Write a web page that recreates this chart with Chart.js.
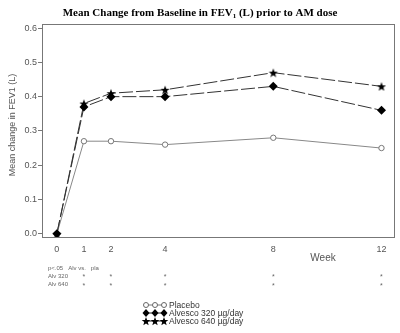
<!DOCTYPE html>
<html><head><meta charset="utf-8">
<script src="https://cdn.jsdelivr.net/npm/chart.js@4.4.1/dist/chart.umd.min.js"></script>
<style>html,body{margin:0;padding:0;background:#fff}#wrap{width:400px;height:333px}</style>
</head><body><div id="wrap"><canvas id="c" width="400" height="333"></canvas></div>
<script>
const weeks = [0, 1, 2, 4, 8, 12];
const placebo = [0, 0.27, 0.27, 0.26, 0.28, 0.25];
const alv320 = [0, 0.37, 0.40, 0.40, 0.43, 0.36];
const alv640 = [0, 0.38, 0.41, 0.42, 0.47, 0.43];
const seriesNames = ['Placebo', 'Alvesco 320 µg/day', 'Alvesco 640 µg/day'];
const yTicks = [0, 0.1, 0.2, 0.3, 0.4, 0.5, 0.6];
const sig320 = [1, 2, 4, 8, 12];
const sig640 = [1, 2, 4, 8, 12];

function starPath(ctx, cx, cy, R, r) {
  ctx.beginPath();
  for (let i = 0; i < 10; i++) {
    const rad = i % 2 === 0 ? R : r;
    const a = -Math.PI / 2 + i * Math.PI / 5;
    const x = cx + rad * Math.cos(a), y = cy + rad * Math.sin(a);
    if (i === 0) ctx.moveTo(x, y); else ctx.lineTo(x, y);
  }
  ctx.closePath();
}
const starImg = document.createElement('canvas');
starImg.width = 10; starImg.height = 10;
(function(){const g = starImg.getContext('2d'); g.fillStyle = '#000'; starPath(g, 5, 5.5, 4.8, 2.0); g.fill();})();

function toXY(vals){ return weeks.map((w,i)=>({x:w,y:vals[i]})); }

const extras = {
  id: 'extras',
  afterDraw(chart) {
    const ctx = chart.ctx, ca = chart.chartArea;
    const xs = chart.scales.x;
    ctx.save();
    ctx.strokeStyle = '#777'; ctx.lineWidth = 1;
    ctx.strokeRect(ca.left + 0.5, ca.top + 0.5, ca.right - ca.left - 1, ca.bottom - ca.top - 1);
    ctx.fillStyle = '#000';
    ctx.textBaseline = 'alphabetic';
    const f1 = 'bold 11px "Liberation Serif", "Times New Roman", serif';
    const f2 = 'bold 7px "Liberation Serif", "Times New Roman", serif';
    const p1 = 'Mean Change from Baseline in FEV', p2 = '1', p3 = ' (L) prior to AM dose';
    ctx.font = f1; const w1 = ctx.measureText(p1).width, w3 = ctx.measureText(p3).width;
    ctx.font = f2; const w2 = ctx.measureText(p2).width;
    let x0 = 200 - (w1 + w2 + w3) / 2;
    ctx.font = f1; ctx.textAlign = 'left'; ctx.fillText(p1, x0, 16);
    ctx.font = f2; ctx.fillText(p2, x0 + w1, 18);
    ctx.font = f1; ctx.fillText(p3, x0 + w1 + w2, 16);
    ctx.save();
    ctx.translate(13, 125); ctx.rotate(-Math.PI / 2);
    ctx.font = '9px "Liberation Sans", Arial, sans-serif'; ctx.fillStyle = '#555';
    ctx.textAlign = 'center'; ctx.textBaseline = 'middle';
    ctx.fillText('Mean change in FEV1 (L)', 0, 0);
    ctx.restore();
    ctx.font = '10px "Liberation Sans", Arial, sans-serif'; ctx.fillStyle = '#555';
    ctx.textAlign = 'center'; ctx.textBaseline = 'middle';
    ctx.fillText('Week', 323, 258);
    ctx.font = '6px "Liberation Sans", Arial, sans-serif'; ctx.fillStyle = '#666';
    ctx.textAlign = 'left';
    ctx.fillText('p<.05   Alv vs.   pla', 48, 268);
    ctx.fillText('Alv 320', 48, 276);
    ctx.fillText('Alv 640', 48, 284);
    ctx.textAlign = 'center';
    ctx.font = '7px "Liberation Sans", Arial, sans-serif';
    sig320.forEach(w => ctx.fillText('*', xs.getPixelForValue(w), 277));
    sig640.forEach(w => ctx.fillText('*', xs.getPixelForValue(w), 286));
    const lx = [146, 155, 164];
    const rows = [305, 313, 321];
    ctx.textAlign = 'left'; ctx.textBaseline = 'middle';
    ctx.font = '8.5px "Liberation Sans", Arial, sans-serif';
    rows.forEach((y, k) => {
      ctx.strokeStyle = k === 0 ? '#777' : '#222'; ctx.lineWidth = 1;
      ctx.beginPath(); ctx.moveTo(lx[0], y); ctx.lineTo(lx[2], y); ctx.stroke();
      lx.forEach(x => {
        if (k === 0) {
          ctx.beginPath(); ctx.arc(x, y, 2.5, 0, Math.PI * 2);
          ctx.fillStyle = '#fff'; ctx.fill(); ctx.strokeStyle = '#666'; ctx.stroke();
        } else if (k === 1) {
          ctx.beginPath(); ctx.moveTo(x, y - 4); ctx.lineTo(x + 3.5, y); ctx.lineTo(x, y + 4); ctx.lineTo(x - 3.5, y); ctx.closePath();
          ctx.fillStyle = '#000'; ctx.fill();
        } else {
          ctx.fillStyle = '#000'; starPath(ctx, x, y + 0.5, 4.5, 1.9); ctx.fill();
        }
      });
      ctx.fillStyle = '#333';
      ctx.fillText(seriesNames[k], 169, y + 0.5);
    });
    ctx.restore();
  }
};

new Chart(document.getElementById('c'), {
  type: 'line',
  data: {
    datasets: [
      { label: seriesNames[1], data: toXY(alv320), order: 0, borderColor: '#333', borderWidth: 1, borderDash: [14, 3],
        pointStyle: 'rectRot', pointRadius: 4.5, pointBackgroundColor: '#000', pointBorderColor: '#000', pointBorderWidth: 0, tension: 0 },
      { label: seriesNames[0], data: toXY(placebo), order: 1, borderColor: '#888', borderWidth: 1,
        pointStyle: 'circle', pointRadius: 2.7, pointBackgroundColor: '#fff', pointBorderColor: '#777', pointBorderWidth: 1, tension: 0 },
      { label: seriesNames[2], data: toXY(alv640), order: 2, borderColor: '#333', borderWidth: 1, borderDash: [14, 3],
        pointStyle: starImg, pointRadius: 5, pointBorderWidth: 0, tension: 0 }
    ]
  },
  options: {
    responsive: false, animation: false, devicePixelRatio: 1,
    layout: { padding: { top: 24, right: 4, left: 0, bottom: 0 } },
    plugins: { legend: { display: false }, tooltip: { enabled: false }, title: { display: false } },
    scales: {
      x: {
        type: 'linear', min: -0.55, max: 12.5,
        afterFit: s => { s.height = 95; },
        afterBuildTicks: s => { s.ticks = weeks.map(v => ({ value: v })); },
        grid: { drawOnChartArea: false, drawTicks: true, tickLength: 0, color: '#777' },
        border: { display: false },
        ticks: { color: '#555', font: { size: 9, family: '"Liberation Sans", Arial, sans-serif' }, padding: 6, maxRotation: 0, autoSkip: false,
          callback: v => String(v) }
      },
      y: {
        min: -0.0125, max: 0.612,
        afterFit: s => { s.width = 42; },
        afterBuildTicks: s => { s.ticks = yTicks.map(v => ({ value: v })); },
        grid: { drawOnChartArea: false, drawTicks: true, tickLength: 4, color: '#777' },
        border: { display: false },
        ticks: { color: '#555', font: { size: 9, family: '"Liberation Sans", Arial, sans-serif' }, padding: 1,
          callback: v => Number(v).toFixed(1) }
      }
    }
  },
  plugins: [extras]
});
</script></body></html>
